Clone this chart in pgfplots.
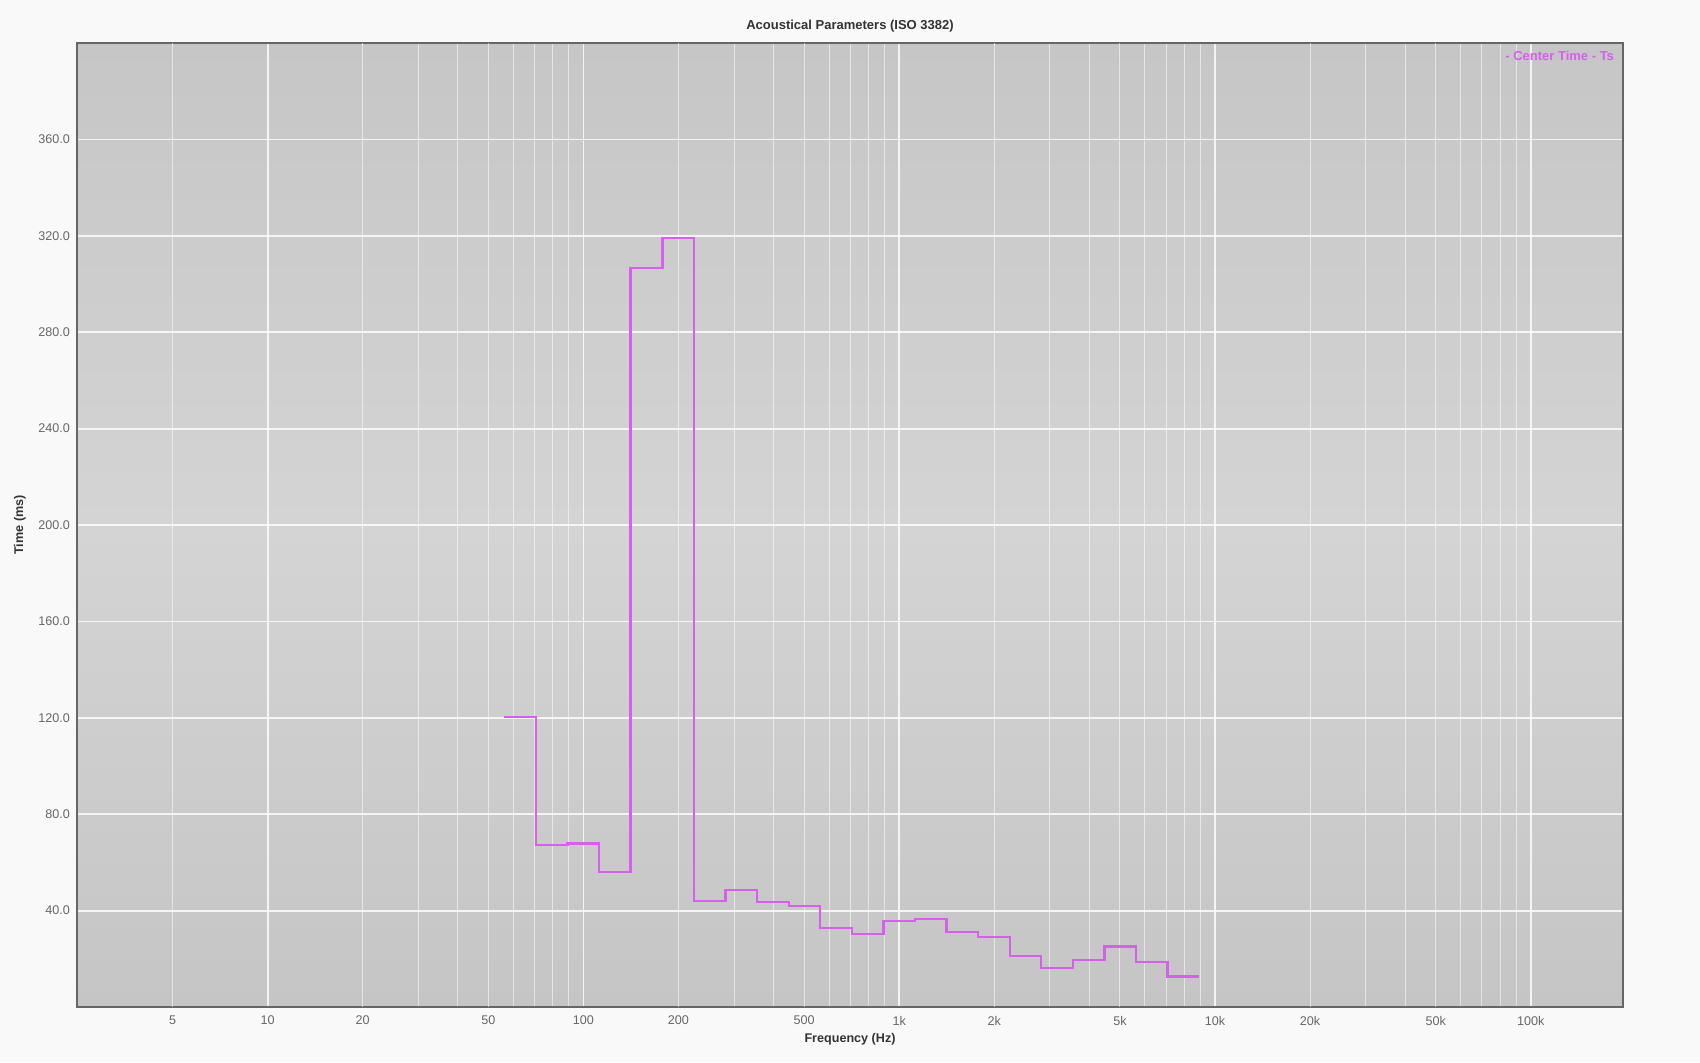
\documentclass[border=0pt]{standalone}
\usepackage{fontspec}
\setmainfont{Liberation Sans}
\usepackage{pgfplots}
\pgfplotsset{compat=1.18}
\definecolor{pagebg}{HTML}{F9F9F9}
\definecolor{plottop}{HTML}{C6C6C6}
\definecolor{plotmid}{HTML}{D4D4D4}
\definecolor{plotbot}{HTML}{C5C5C5}
\definecolor{tsline}{HTML}{D65FEC}
\definecolor{labelgray}{HTML}{666666}
\definecolor{titlegray}{HTML}{333333}
\definecolor{framegray}{HTML}{666666}

\begin{document}
\begin{tikzpicture}
\fill[pagebg] (0,0) rectangle (850pt,531pt);
\begin{axis}[
  at={(38.5pt,27.5pt)}, anchor=south west,
  scale only axis, width=773pt, height=482pt,
  xmode=log, xmin=2.49, xmax=196000,
  ymin=0, ymax=400,
  axis background/.style={shade, top color=plottop, bottom color=plotbot, middle color=plotmid},
  axis line style={framegray, line width=1pt},
  xtick={10,100,1000,10000,100000},
  xticklabels={10,100,1k,10k,100k},
  extra x ticks={5,20,50,200,500,2000,5000,20000,50000},
  extra x tick labels={5,20,50,200,500,2k,5k,20k,50k},
  extra x tick style={major grid style={white, opacity=0.55, line width=0.5pt}},
  minor xtick={30,40,60,70,80,90,300,400,600,700,800,900,3000,4000,6000,7000,8000,9000,30000,40000,60000,70000,80000,90000},
  ytick={40,80,...,360},
  yticklabels={40.0,80.0,120.0,160.0,200.0,240.0,280.0,320.0,360.0},
  xmajorgrids, xminorgrids, ymajorgrids,
  major grid style={white, opacity=0.8, line width=0.9pt},
  minor grid style={white, opacity=0.55, line width=0.5pt},
  major tick length=0pt, minor tick length=0pt,
  /pgf/number format/assume math mode=true,
  ticklabel style={font=\fontsize{6.3}{7}\selectfont, text=labelgray},
  xticklabel style={yshift=-1pt},
  title={Acoustical Parameters (ISO 3382)},
  title style={at={(0.5,1)}, anchor=center, yshift=2.4pt, font=\bfseries\fontsize{6.5}{8}\selectfont, text=titlegray},
  xlabel={Frequency (Hz)},
  xlabel style={at={(axis description cs:0.5,0)}, anchor=center, yshift=-16pt, font=\bfseries\fontsize{6.3}{8}\selectfont, text=titlegray},
  ylabel={Time (ms)},
  ylabel style={at={(axis description cs:-0.0370,0.5)}, anchor=center, font=\bfseries\fontsize{6.3}{8}\selectfont, text=titlegray},
  clip=false,
]
% center time per third-octave band, drawn as steps from band edge to band edge
\addplot[const plot, tsline, line width=1.15pt] coordinates {
  (56.2,120.2) (70.8,67.2) (89.1,67.9) (112,56.1) (141,306.5) (178,319.2)
  (224,44.0) (282,48.6) (355,43.7) (447,41.8) (562,32.7) (708,30.3)
  (891,35.7) (1122,36.4) (1413,31.2) (1778,29.0) (2239,21.3) (2818,16.3)
  (3548,19.6) (4467,25.1) (5623,18.8) (7079,12.7) (8913,12.7)
};
\node[anchor=east, xshift=-1pt, yshift=-6.3pt, font=\bfseries\fontsize{6.5}{7}\selectfont, text=tsline]
  at (rel axis cs:1,1) {- Center Time - Ts};
\end{axis}
\end{tikzpicture}
\end{document}
